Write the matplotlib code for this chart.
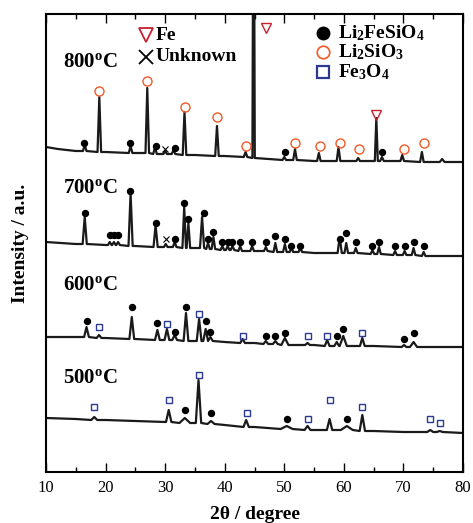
import numpy as np
import matplotlib
matplotlib.use('Agg')
import matplotlib.pyplot as plt

plt.rcParams['font.family'] = 'Liberation Serif'
plt.rcParams['mathtext.fontset'] = 'custom'
plt.rcParams['mathtext.rm'] = 'Liberation Serif'
plt.rcParams['mathtext.bf'] = 'Liberation Serif:bold'
plt.rcParams['mathtext.it'] = 'Liberation Serif:italic'

# baselines (2theta, intensity a.u.)
base800_x = [10, 12, 15, 20, 25, 30, 35, 40, 45, 50, 55, 60, 65, 70, 75, 80]
base800_y = [325, 323, 321, 320, 319, 318, 317, 316, 314, 312, 311, 311, 311, 311, 310, 310]
base700_x = [10, 15, 20, 25, 30, 35, 40, 45, 50, 55, 60, 65, 70, 75, 80]
base700_y = [230, 228, 227, 226, 225, 224, 222, 221, 220, 219, 219, 218, 217, 216, 216]
base600_x = [10, 15, 20, 25, 30, 35, 40, 45, 50, 55, 60, 65, 70, 75, 80]
base600_y = [135, 135, 134, 133, 132, 131, 130, 129, 127, 127, 126, 126, 125, 125, 125]
base500_x = [10, 15, 20, 25, 30, 35, 40, 45, 50, 55, 60, 65, 70, 75, 80]
base500_y = [54, 53, 52, 51, 50, 49, 47, 45, 43, 42, 42, 41, 40, 40, 39]

# peaks: (position, top, foot level, half width)
peaks800 = [(16.5, 327, 321, 0.3), (18.95, 375, 320, 0.3), (24.2, 326, 319, 0.3),
            (27.0, 384, 319, 0.3), (28.3, 325, 318, 0.3), (30.0, 321, 318, 0.3),
            (31.4, 322, 318, 0.3), (33.25, 360, 317, 0.3), (38.7, 346, 316, 0.3),
            (43.5, 320, 315, 0.3), (44.85, 700, 314, 0.2), (50.0, 315, 312, 0.3),
            (51.8, 323, 312, 0.3), (55.8, 319, 311, 0.3), (59.1, 325, 311, 0.3),
            (62.4, 314, 311, 0.3), (65.45, 354, 311, 0.25), (66.4, 315, 311, 0.3),
            (69.8, 317, 311, 0.3), (73.1, 320, 310, 0.3), (76.5, 313, 310, 0.4)]
peaks700 = [(16.5, 255, 228, 0.35), (20.7, 230, 227, 0.3), (21.4, 230, 227, 0.3),
            (22.1, 230, 227, 0.3), (24.2, 279, 226, 0.35), (28.4, 247, 225, 0.35),
            (30.1, 228, 225, 0.3), (31.6, 230, 225, 0.3), (33.2, 265, 224, 0.3),
            (33.9, 249, 224, 0.3), (36.2, 255, 224, 0.35), (37.2, 229, 223, 0.3),
            (38.1, 235, 223, 0.3), (39.6, 226, 222, 0.3), (40.5, 226, 222, 0.3),
            (41.3, 226, 222, 0.3), (42.6, 226, 221, 0.3), (44.6, 226, 221, 0.3),
            (46.9, 225, 221, 0.3), (48.5, 229, 220, 0.3), (50.1, 228, 220, 0.3),
            (51.2, 224, 220, 0.3), (52.7, 224, 220, 0.3), (59.3, 235, 219, 0.35),
            (60.4, 229, 219, 0.3), (62.0, 224, 219, 0.3), (64.8, 222, 218, 0.3),
            (65.9, 225, 218, 0.3), (68.6, 221, 217, 0.3), (70.2, 221, 217, 0.3),
            (71.7, 224, 217, 0.3), (73.4, 220, 216, 0.3)]
peaks600 = [(16.8, 145, 135, 0.4), (18.9, 137, 134, 0.4), (24.4, 155, 133, 0.4),
            (28.7, 142, 132, 0.4), (30.3, 143, 132, 0.4), (31.6, 137, 132, 0.4),
            (33.5, 159, 131, 0.4), (35.7, 153, 131, 0.4), (36.8, 143, 131, 0.4),
            (37.6, 135, 131, 0.4), (43.0, 133, 129, 0.4), (46.9, 131, 128, 0.4),
            (48.5, 131, 128, 0.4), (50.1, 134, 127, 0.6), (53.9, 129, 127, 0.4),
            (57.2, 132, 126, 0.4), (58.8, 130, 126, 0.4), (59.9, 136, 126, 0.6),
            (63.1, 134, 126, 0.4), (70.1, 127, 125, 0.4), (71.7, 130, 125, 0.6)]
peaks500 = [(18.1, 55, 52, 0.5), (30.6, 62, 50, 0.45), (33.3, 54, 49, 0.9),
            (35.6, 92, 49, 0.45), (37.7, 51, 48, 0.6), (43.6, 52, 45, 0.45),
            (50.4, 46, 43, 1.0), (53.9, 46, 42, 0.5), (57.6, 53, 42, 0.45),
            (60.5, 46, 42, 1.0), (63.1, 57, 41, 0.45), (74.5, 42, 40, 0.5),
            (76.1, 41, 40, 0.5)]

# phase markers
li2fesio4_x = [16.4, 24.1, 28.4, 31.6, 50.1, 66.4,
               16.5, 20.7, 21.4, 22.1, 24.1, 28.4, 31.6, 33.2, 33.9, 36.5, 37.2, 38.1,
               39.6, 40.5, 41.3, 42.6, 44.6, 46.9, 48.5, 50.1, 51.2, 52.7, 59.3, 60.4,
               62.0, 64.8, 65.9, 68.6, 70.2, 71.7, 73.4,
               16.8, 24.4, 28.7, 31.6, 33.5, 36.8, 37.6, 46.9, 48.5, 50.1, 58.8, 59.9,
               70.1, 71.7,
               33.3, 37.7, 50.4, 60.5]
li2fesio4_y = [329, 329, 326, 324, 320, 320,
               259, 237, 237, 237, 281, 249, 233, 269, 253, 259, 233, 240,
               230, 230, 230, 230, 230, 230, 236, 233, 226, 226, 233, 239,
               230, 226, 230, 226, 226, 230, 226,
               151, 165, 149, 140, 165, 151, 140, 136, 136, 139, 136, 143,
               133, 139,
               62, 59, 53, 53]
li2sio3_x = [18.95, 27.0, 33.3, 38.7, 43.6, 51.8, 56.0, 59.3, 62.5, 70.1, 73.4]
li2sio3_y = [381, 391, 365, 355, 326, 329, 326, 329, 323, 323, 329]
fe3o4_x = [18.9, 30.3, 35.7, 43.0, 53.9, 57.2, 63.1,
           18.1, 30.6, 35.6, 43.7, 53.9, 57.6, 63.1, 74.5, 76.1]
fe3o4_y = [145, 148, 158, 136, 136, 136, 139,
           65, 72, 97, 59, 53, 72, 65, 53, 49]
fe_x = [65.4, 46.9]
fe_y = [357, 444]
unknown_x = [30.0, 30.1]
unknown_y = [323, 233]

temps = ['800', '700', '600', '500']
temp_y = [410, 284, 187, 94]


def build(bx, by, peaks):
    xs, ys = [], []
    for x, y in zip(bx, by):
        if not any(abs(x - p[0]) <= p[3] for p in peaks):
            xs.append(x)
            ys.append(y)
    for pos, top, foot, w in peaks:
        xs += [pos - w, pos, pos + w]
        ys += [foot, top, foot]
    order = np.argsort(xs, kind='stable')
    return np.array(xs)[order], np.array(ys)[order]


fig = plt.figure(figsize=(4.73, 5.23), dpi=100)
ax = fig.add_axes([46 / 473, 51 / 523, 417 / 473, 458 / 523])

for bx, by, pk in [(base800_x, base800_y, peaks800), (base700_x, base700_y, peaks700),
                   (base600_x, base600_y, peaks600), (base500_x, base500_y, peaks500)]:
    x, y = build(bx, by, pk)
    ax.plot(x, y, color='#1a1a1a', lw=1.6, solid_joinstyle='round')

red = '#f05a28'
blue = '#2b3a93'
fe_red = '#c8202f'
ax.plot(li2fesio4_x, li2fesio4_y, 'o', ms=4.3, color='black', ls='none')
ax.plot(li2sio3_x, li2sio3_y, 'o', ms=6.5, mfc='none', mec=red, mew=1.0, ls='none')
ax.plot(fe3o4_x, fe3o4_y, 's', ms=4.0, mfc='none', mec=blue, mew=1.0, ls='none')
ax.plot(fe_x, fe_y, 'v', ms=7.5, mfc='none', mec=fe_red, mew=1.0, ls='none')
ax.plot(unknown_x, unknown_y, 'x', ms=5, color='black', mew=0.8, ls='none')

for t, ty in zip(temps, temp_y):
    ax.text(12.8, ty, t + r'$^{\mathbf{o}}$C', fontsize=15, fontweight='bold',
            ha='left', va='center')

# legend drawn by hand
tr = ax.transAxes
ax.plot([0.241], [0.954], 'v', ms=10, mfc='none', mec=fe_red, mew=1.3, transform=tr)
ax.text(0.262, 0.954, 'Fe', transform=tr, fontsize=14, fontweight='bold', va='center')
ax.plot([0.241], [0.907], 'x', ms=10, color='black', mew=1.3, transform=tr)
ax.text(0.262, 0.907, 'Unknown', transform=tr, fontsize=14, fontweight='bold', va='center')
ax.plot([0.664], [0.958], 'o', ms=9, color='black', transform=tr)
ax.text(0.700, 0.958, r'Li$_{\mathbf{2}}$FeSiO$_{\mathbf{4}}$', transform=tr, fontsize=14,
        fontweight='bold', va='center')
ax.plot([0.664], [0.917], 'o', ms=9, mfc='none', mec=red, mew=1.2, transform=tr)
ax.text(0.700, 0.917, r'Li$_{\mathbf{2}}$SiO$_{\mathbf{3}}$', transform=tr, fontsize=14,
        fontweight='bold', va='center')
ax.plot([0.664], [0.873], 's', ms=8.5, mfc='none', mec=blue, mew=1.6, transform=tr)
ax.text(0.700, 0.873, r'Fe$_{\mathbf{3}}$O$_{\mathbf{4}}$', transform=tr, fontsize=14,
        fontweight='bold', va='center')

ax.set_xlim(10, 80)
ax.set_ylim(0, 458)
ax.set_xticks(range(10, 81, 10))
ax.set_xticks(range(15, 80, 10), minor=True)
ax.set_yticks([])
ax.tick_params(axis='x', which='both', direction='in', top=True, width=1.0, labelsize=12, pad=6)
ax.tick_params(axis='x', which='major', length=6.5)
ax.tick_params(axis='x', which='minor', length=3.6)
for s in ax.spines.values():
    s.set_linewidth(1.5)

ax.set_xlabel(u'2\u03b8 / degree', fontsize=14, fontweight='bold', labelpad=7)
ax.set_ylabel('Intensity / a.u.', fontsize=14, fontweight='bold', labelpad=12)

plt.savefig('out.png', dpi=100)
